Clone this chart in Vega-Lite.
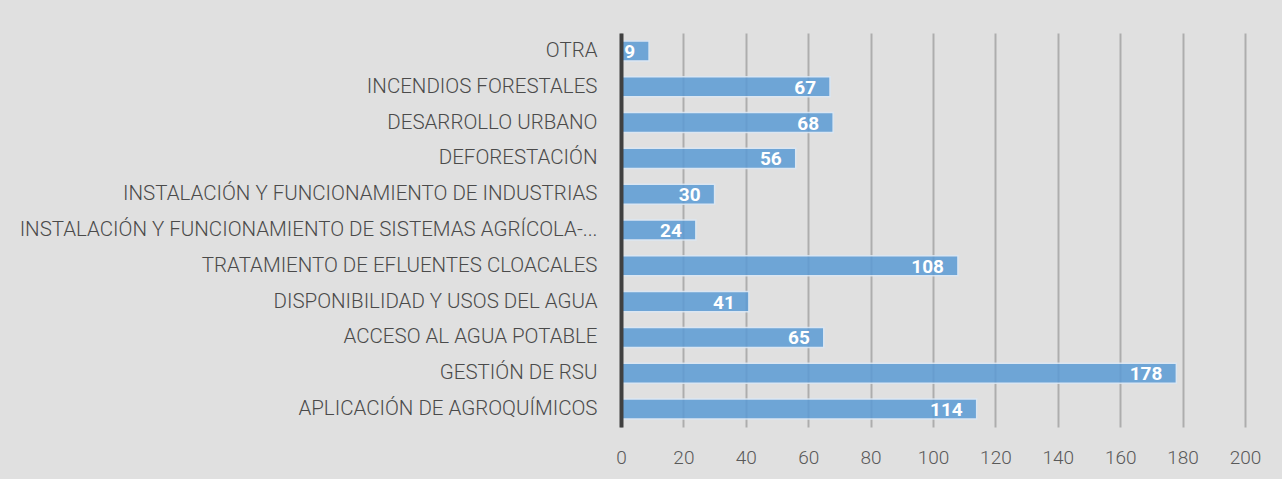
{
  "$schema": "https://vega.github.io/schema/vega-lite/v6.json",
  "width": 624,
  "height": 394,
  "autosize": {"type": "none"},
  "padding": {"left": 621, "top": 33, "right": 37, "bottom": 52},
  "background": "#e0e0e0",
  "config": {
    "view": {"stroke": null},
    "font": "Roboto"
  },
  "data": {
    "values": [
      {"tema": "OTRA", "n": 9},
      {"tema": "INCENDIOS FORESTALES", "n": 67},
      {"tema": "DESARROLLO URBANO", "n": 68},
      {"tema": "DEFORESTACIÓN", "n": 56},
      {"tema": "INSTALACIÓN Y FUNCIONAMIENTO DE INDUSTRIAS", "n": 30},
      {"tema": "INSTALACIÓN Y FUNCIONAMIENTO DE SISTEMAS AGRÍCOLA-...", "n": 24},
      {"tema": "TRATAMIENTO DE EFLUENTES CLOACALES", "n": 108},
      {"tema": "DISPONIBILIDAD Y USOS DEL AGUA", "n": 41},
      {"tema": "ACCESO AL AGUA POTABLE", "n": 65},
      {"tema": "GESTIÓN DE RSU", "n": 178},
      {"tema": "APLICACIÓN DE AGROQUÍMICOS", "n": 114}
    ]
  },
  "encoding": {
    "y": {
      "field": "tema",
      "type": "nominal",
      "sort": null,
      "scale": {"paddingInner": 0.44, "paddingOuter": 0.22},
      "axis": {
        "title": null,
        "ticks": false,
        "zindex": 1,
        "domainColor": "#404040",
        "domainWidth": 4,
        "labelFont": "Roboto",
        "labelFontWeight": 300,
        "labelFontSize": 20.5,
        "labelColor": "#4a4a4a",
        "labelPadding": 24,
        "labelLimit": 700,
        "grid": false
      }
    },
    "x": {
      "field": "n",
      "type": "quantitative",
      "scale": {"domain": [0, 200]},
      "axis": {
        "title": null,
        "values": [0, 20, 40, 60, 80, 100, 120, 140, 160, 180, 200],
        "domain": false,
        "ticks": false,
        "grid": true,
        "gridColor": "#adadad",
        "gridWidth": 2,
        "labelFont": "Roboto",
        "labelFontWeight": 300,
        "labelFontSize": 19,
        "labelColor": "#595959",
        "labelPadding": 21,
        "labelFlush": false
      }
    }
  },
  "layer": [
    {
      "mark": {"type": "bar", "color": "#5b9bd5", "opacity": 0.85, "stroke": "#dbe8f5", "strokeWidth": 1.5}
    },
    {
      "mark": {"type": "text", "align": "right", "baseline": "middle", "dx": -14, "dy": 1, "color": "white", "fontWeight": "bold", "fontSize": 19, "font": "Roboto"},
      "encoding": {"text": {"field": "n", "type": "quantitative"}}
    }
  ]
}
